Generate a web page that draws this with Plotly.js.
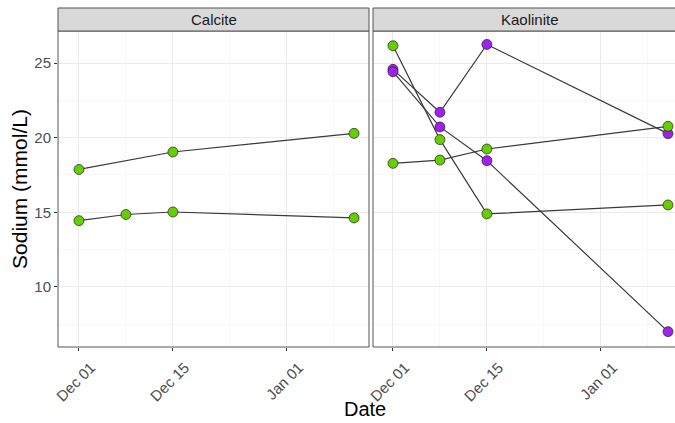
<!DOCTYPE html>
<html>
<head>
<meta charset="utf-8">
<script src="https://cdn.plot.ly/plotly-3.0.1.min.js"></script>
<style>html,body{margin:0;padding:0;background:#fff;}#chart{width:675px;height:423px;}</style>
</head>
<body>
<div id="chart"></div>
<script>
// ---- data ----
const facets = ['Calcite', 'Kaolinite'];
const calciteDatesA = ['2017-12-01', '2017-12-15', '2018-01-11'];
const calciteSodiumA = [17.87, 19.04, 20.29];
const calciteDatesB = ['2017-12-01', '2017-12-08', '2017-12-15', '2018-01-11'];
const calciteSodiumB = [14.44, 14.85, 15.02, 14.62];
const kaoliniteDates = ['2017-12-01', '2017-12-08', '2017-12-15', '2018-01-11'];
const kaolinitePurpleA = [24.58, 21.70, 26.25, 20.27];
const kaolinitePurpleB = [24.42, 20.72, 18.46, 7.00];
const kaoliniteGreenA = [26.16, 19.87, 14.89, 15.49];
const kaoliniteGreenB = [18.28, 18.50, 19.24, 20.76];
const xTickVals = ['2017-12-01', '2017-12-15', '2018-01-01'];
const xTickText = ['Dec 01', 'Dec 15', 'Jan 01'];
const xMinorVals = ['2017-12-08', '2017-12-23 12:00', '2018-01-08'];
const yTickVals = [10, 15, 20, 25];
const yMinorVals = [7.5, 12.5, 17.5, 22.5];

const green = '#66CD00';
const purple = '#A020F0';
const lineCol = '#3A3A3A';

const series = [
  {x: calciteDatesA, y: calciteSodiumA, ax: 'x', col: green},
  {x: calciteDatesB, y: calciteSodiumB, ax: 'x', col: green},
  {x: kaoliniteDates, y: kaolinitePurpleA, ax: 'x2', col: purple},
  {x: kaoliniteDates, y: kaolinitePurpleB, ax: 'x2', col: purple},
  {x: kaoliniteDates, y: kaoliniteGreenA, ax: 'x2', col: green},
  {x: kaoliniteDates, y: kaoliniteGreenB, ax: 'x2', col: green}
];

const traces = [];
series.forEach(s => traces.push({
  type: 'scatter', mode: 'lines', x: s.x, y: s.y,
  xaxis: s.ax, yaxis: s.ax === 'x' ? 'y' : 'y2',
  line: {color: lineCol, width: 1.2}, hoverinfo: 'skip', showlegend: false
}));
series.forEach(s => traces.push({
  type: 'scatter', mode: 'markers', x: s.x, y: s.y,
  xaxis: s.ax, yaxis: s.ax === 'x' ? 'y' : 'y2',
  marker: {color: s.col, size: 10, line: {color: '#222222', width: 0.7}},
  showlegend: false
}));

const font = 'Liberation Sans, Arial, Helvetica, sans-serif';
const plotH = 316;
const stripH = 23;
const d1 = 311 / 617, d2 = 315 / 617;

const xCommon = {
  type: 'date',
  tickmode: 'array', tickvals: xTickVals, ticktext: xTickText,
  tickangle: -45, ticks: 'outside', ticklen: 3, tickcolor: '#333333',
  ticklabelshift: 12, ticklabelstandoff: 2,
  tickfont: {family: font, size: 15, color: '#4D4D4D'},
  showgrid: true, gridcolor: '#EBEBEB', gridwidth: 1,
  minor: {tickvals: xMinorVals, showgrid: true, gridcolor: '#F2F2F2', gridwidth: 0.6, ticks: ''},
  zeroline: false, showline: false
};
const yCommon = {
  range: [5.97, 27.15],
  tickmode: 'array', tickvals: yTickVals,
  ticks: 'outside', ticklen: 3, tickcolor: '#333333',
  tickfont: {family: font, size: 15, color: '#4D4D4D'},
  showgrid: true, gridcolor: '#EBEBEB', gridwidth: 1,
  minor: {tickvals: yMinorVals, showgrid: true, gridcolor: '#F2F2F2', gridwidth: 0.6, ticks: ''},
  zeroline: false, showline: false
};

const layout = {
  width: 675, height: 423,
  margin: {l: 58, r: 0, t: 31, b: 76},
  paper_bgcolor: '#FFFFFF', plot_bgcolor: '#FFFFFF',
  font: {family: font},
  showlegend: false,
  xaxis: Object.assign({}, xCommon, {domain: [0, d1], anchor: 'y',
    range: ['2017-11-27 21:00', '2018-01-13 05:30']}),
  xaxis2: Object.assign({}, xCommon, {domain: [d2, 1], anchor: 'y2',
    range: ['2017-11-28 00:30', '2018-01-12 01:00']}),
  yaxis: Object.assign({}, yCommon, {anchor: 'x',
    title: {text: 'Sodium (mmol/L)', font: {family: font, size: 21, color: '#000000'}, standoff: 0}}),
  yaxis2: Object.assign({}, yCommon, {anchor: 'x2', matches: 'y', showticklabels: false, ticks: ''}),
  shapes: [
    {type: 'rect', xref: 'paper', yref: 'paper', x0: 0, x1: d1, y0: 0, y1: 1,
      line: {color: '#555555', width: 1}, fillcolor: 'rgba(0,0,0,0)'},
    {type: 'rect', xref: 'paper', yref: 'paper', x0: d2, x1: 1.05, y0: 0, y1: 1,
      line: {color: '#555555', width: 1}, fillcolor: 'rgba(0,0,0,0)'},
    {type: 'rect', xref: 'paper', yref: 'paper', x0: 0, x1: d1, y0: 1, y1: 1 + stripH / plotH,
      line: {color: '#555555', width: 1}, fillcolor: '#D9D9D9'},
    {type: 'rect', xref: 'paper', yref: 'paper', x0: d2, x1: 1.05, y0: 1, y1: 1 + stripH / plotH,
      line: {color: '#555555', width: 1}, fillcolor: '#D9D9D9'}
  ],
  annotations: [
    {text: facets[0], xref: 'paper', yref: 'paper', x: d1 / 2, y: 1 + stripH / plotH / 2,
      showarrow: false, xanchor: 'center', yanchor: 'middle', font: {family: font, size: 15, color: '#1A1A1A'}},
    {text: facets[1], xref: 'paper', yref: 'paper', x: (d2 + 1 + 11 / 617) / 2, y: 1 + stripH / plotH / 2,
      showarrow: false, xanchor: 'center', yanchor: 'middle', font: {family: font, size: 15, color: '#1A1A1A'}},
    {text: 'Date', xref: 'paper', yref: 'paper', x: 307 / 617, y: -62 / plotH,
      showarrow: false, xanchor: 'center', yanchor: 'middle', font: {family: font, size: 20, color: '#000000'}}
  ]
};

Plotly.newPlot('chart', traces, layout, {displayModeBar: false, staticPlot: true});
</script>
</body>
</html>
